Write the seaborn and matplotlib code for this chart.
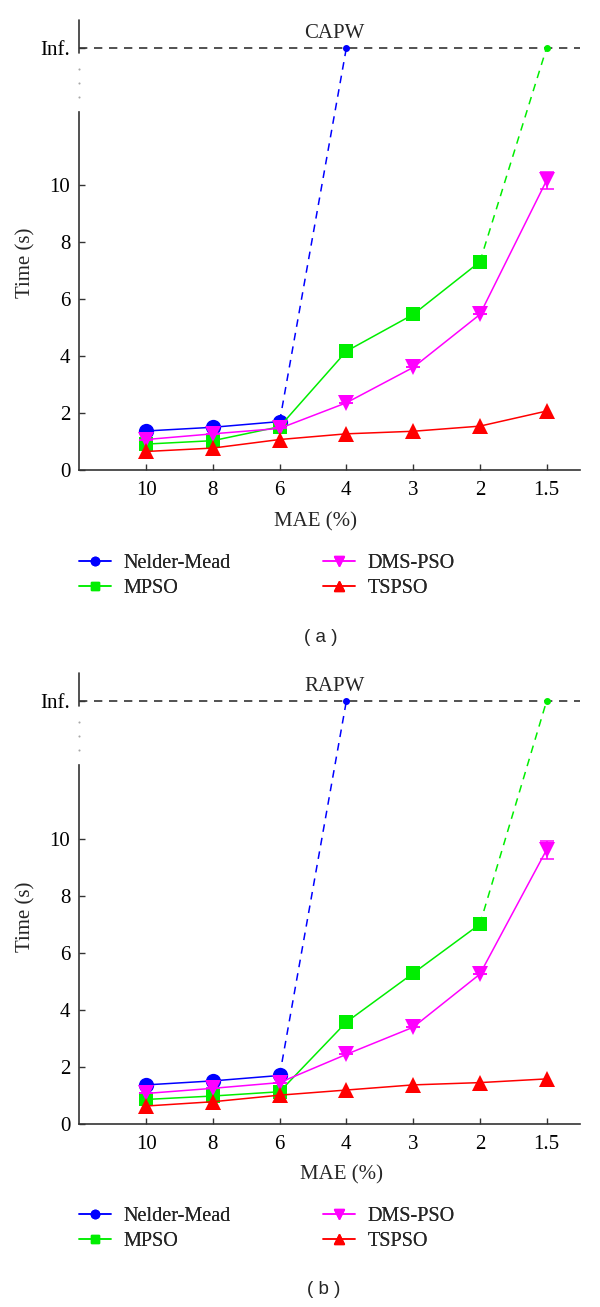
"""Computation time vs. MAE for four optimisers on CAPW and RAPW."""

import matplotlib

matplotlib.use("Agg")

import matplotlib.pyplot as plt
import pandas as pd
import seaborn as sns
from matplotlib.lines import Line2D

MAE_LABELS = ["10", "8", "6", "4", "3", "2", "1.5"]
INF = 14.82

# panel (a): CAPW
CAPW_NELDER = [1.37, 1.50, 1.70]
CAPW_MPSO = [0.91, 1.03, 1.52, 4.17, 5.46, 7.31]
CAPW_DMS = [1.07, 1.27, 1.46, 2.36, 3.60, 5.46, 10.17]
CAPW_DMS_ERR = [0, 0, 0, 0, 0, 0, 0.3]
CAPW_TSPSO = [0.65, 0.77, 1.07, 1.27, 1.36, 1.54, 2.07]

# panel (b): RAPW
RAPW_NELDER = [1.37, 1.51, 1.70]
RAPW_MPSO = [0.86, 0.98, 1.13, 3.57, 5.28, 7.00]
RAPW_DMS = [1.07, 1.25, 1.45, 2.44, 3.39, 5.25, 9.61]
RAPW_DMS_ERR = [0, 0, 0, 0, 0, 0, 0.32]
RAPW_TSPSO = [0.63, 0.78, 1.01, 1.19, 1.37, 1.45, 1.58]

BLUE = "#0000ff"
GREEN = "#00ee00"
MAGENTA = "#ff00ff"
RED = "#ff0000"
AXIS = "#333333"
SERIF = "Liberation Serif"
FS = 15


def draw_panel(ax, name, nelder, mpso, dms, dms_err, tspso):
    pos = list(range(len(MAE_LABELS)))

    series = [
        ("Nelder-Mead", nelder, BLUE, "o", 11),
        ("MPSO", mpso, GREEN, "s", 9.5),
        ("DMS-PSO", dms, MAGENTA, "v", 12),
        ("TSPSO", tspso, RED, "^", 12),
    ]
    for label, vals, color, marker, ms in series:
        df = pd.DataFrame({"pos": pos[: len(vals)], "time": vals})
        sns.lineplot(data=df, x="pos", y="time", ax=ax, color=color, marker=marker,
                     markersize=ms, markeredgewidth=0, linewidth=1.1, legend=False,
                     zorder=3)

    # error bars on DMS-PSO
    ax.errorbar(pos, dms, yerr=dms_err, fmt="none", ecolor=MAGENTA, elinewidth=1.1,
                capsize=5, capthick=1.1, zorder=3)

    # dashed jumps to "Inf."
    nm_last = len(nelder) - 1
    ax.plot([nm_last, nm_last + 1], [nelder[-1], INF], ls="--", color=BLUE,
            lw=1.1, dashes=(5, 4), zorder=2)
    ax.plot([nm_last + 1], [INF], "o", color=BLUE, ms=4, zorder=4)
    mp_last = len(mpso) - 1
    ax.plot([mp_last, mp_last + 1], [mpso[-1], INF], ls="--", color=GREEN,
            lw=1.1, dashes=(5, 4), zorder=2)
    ax.plot([mp_last + 1], [INF], "o", color=GREEN, ms=4, zorder=4)

    ax.axhline(INF, ls="--", color=AXIS, lw=1.2, dashes=(5, 4), zorder=1)

    ax.set_xlim(-1.01, 6.5)
    ax.set_ylim(0, 15.8)
    ax.set_xticks(pos)
    ax.set_xticklabels(MAE_LABELS)
    ax.set_yticks([0, 2, 4, 6, 8, 10, INF])
    ax.set_yticklabels(["0", "2", "4", "6", "8", "10", "Inf."])
    ax.tick_params(direction="in", length=4, width=1.0, color=AXIS,
                   labelsize=FS, labelcolor="black")
    ax.tick_params(axis="x", pad=8)
    ax.tick_params(axis="y", pad=6)
    for lab in ax.get_xticklabels() + ax.get_yticklabels():
        lab.set_family(SERIF)

    sns.despine(ax=ax)
    for side in ["left", "bottom"]:
        ax.spines[side].set_color(AXIS)
        ax.spines[side].set_linewidth(1.2)
    ax.spines["left"].set_bounds(0, 12.56)
    ytr = ax.get_yaxis_transform()
    ax.plot([0, 0], [14.63, 15.8], color=AXIS, lw=1.2, transform=ytr, clip_on=False)
    ax.plot([0, 0, 0], [13.09, 13.6, 14.07], ls="none", marker="o", ms=1.5,
            markeredgewidth=0, color="#a8a8a8", transform=ytr, clip_on=False)

    ax.set_xlabel("")
    ax.set_ylabel("Time (s)", fontsize=FS, family=SERIF)
    ax.yaxis.set_label_coords(-0.087, 0.46)
    ax.text(0.51, 0.97, name, transform=ax.transAxes, ha="center", va="center",
            fontsize=FS, family=SERIF)


def add_legends(fig, y_top):
    h = 1307
    handles = {
        "Nelder-Mead": Line2D([], [], color=BLUE, marker="o", ms=6, lw=1.1),
        "MPSO": Line2D([], [], color=GREEN, marker="s", ms=5.5, lw=1.1),
        "DMS-PSO": Line2D([], [], color=MAGENTA, marker="v", ms=6.5, lw=1.1),
        "TSPSO": Line2D([], [], color=RED, marker="^", ms=6.5, lw=1.1),
    }
    for names, x0 in [(["Nelder-Mead", "MPSO"], 79), (["DMS-PSO", "TSPSO"], 323)]:
        leg = fig.legend([handles[n] for n in names], names, loc="upper left",
                         bbox_to_anchor=(x0 / 600, 1 - y_top / h), frameon=False,
                         borderpad=0, borderaxespad=0, handlelength=1.6,
                         handletextpad=0.6, labelspacing=0.3,
                         prop={"family": SERIF, "size": 14.5})
        fig.add_artist(leg)


def main():
    sns.set_theme(style="ticks")
    plt.rcParams["font.family"] = [SERIF, "DejaVu Serif"]

    fig = plt.figure(figsize=(6, 13.07), dpi=100)
    h = 1307
    ax_a = fig.add_axes([78.7 / 600, 1 - 470 / h, 501.3 / 600, 450 / h])
    ax_b = fig.add_axes([78.7 / 600, 1 - 1124 / h, 501.3 / 600, 451 / h])

    draw_panel(ax_a, "CAPW", CAPW_NELDER, CAPW_MPSO, CAPW_DMS, CAPW_DMS_ERR, CAPW_TSPSO)
    draw_panel(ax_b, "RAPW", RAPW_NELDER, RAPW_MPSO, RAPW_DMS, RAPW_DMS_ERR, RAPW_TSPSO)

    fig.text(315 / 600, 1 - 522 / h, "MAE (%)", ha="center", va="center",
             fontsize=FS, family=SERIF)
    fig.text(342 / 600, 1 - 1175 / h, "MAE (%)", ha="center", va="center",
             fontsize=FS, family=SERIF)

    add_legends(fig, 554)
    add_legends(fig, 1207)

    fig.text(321 / 600, 1 - 638 / h, "( a )", ha="center", va="center",
             fontsize=13.5, family="Liberation Sans")
    fig.text(324 / 600, 1 - 1290 / h, "( b )", ha="center", va="center",
             fontsize=13.5, family="Liberation Sans")

    fig.savefig("out.png", dpi=100, facecolor="white")
    plt.close(fig)


if __name__ == "__main__":
    main()
